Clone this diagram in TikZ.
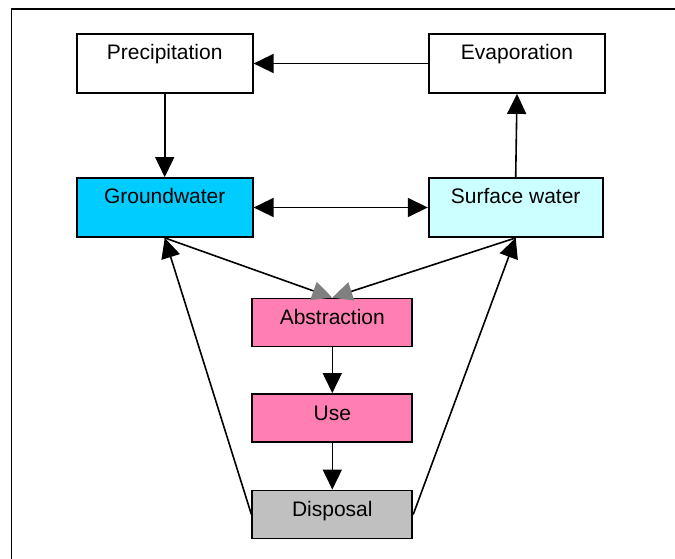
\documentclass[tikz,border=0pt]{standalone}
\usepackage{fontspec}
\setmainfont{Liberation Sans}
\usetikzlibrary{arrows.meta}
\definecolor{gwblue}{HTML}{00CCFF}
\definecolor{swblue}{HTML}{CCFFFF}
\definecolor{usepink}{HTML}{FF7FB2}
\definecolor{dispgray}{HTML}{C0C0C0}
\definecolor{tipgray}{HTML}{808080}
\begin{document}
\begin{tikzpicture}[x=1pt,y=-1pt,
  box/.style={draw=black, line width=1.8pt, rectangle, inner sep=0pt,
    font=\fontsize{21}{25}\selectfont, text height=26pt},
  bigbox/.style={box, minimum width=176pt, minimum height=59pt, text depth=33pt},
  smallbox/.style={box, minimum width=160pt, minimum height=48pt, text depth=22pt},
  flow/.style={line width=1.6pt, -{Triangle[length=20pt,width=19pt]}},
  flowgray/.style={line width=1.6pt, -{Triangle[length=20pt,width=19pt,color=tipgray]}},
  twoway/.style={line width=1.6pt, {Triangle[length=20pt,width=19pt]}-{Triangle[length=20pt,width=19pt]}}
]
\useasboundingbox (0,0) rectangle (675,559);
% frame along the top and left edges
\draw[line width=1.8pt] (11.5,559) -- (11.5,9) -- (675,9);

% water cycle boxes
\node[bigbox] (prec) at (164.7,63.5) {Precipitation};
\node[bigbox, minimum width=176.6pt] (evap) at (517,63.5) {Evaporation};
\node[bigbox, fill=gwblue] (gw) at (164.7,207.5) {Groundwater};
\node[bigbox, fill=swblue, minimum width=174pt] (sw) at (515.7,207.5) {Surface water};

% human use chain
\node[smallbox, fill=usepink] (abs) at (332.3,322.5) {Abstraction};
\node[smallbox, fill=usepink] (use) at (332.3,418) {Use};
\node[smallbox, fill=dispgray] (disp) at (332.3,514.5) {Disposal};

% connectors
\draw[flow] (evap.west) -- (prec.east);
\draw[flow] (prec.south) -- (gw.north);
\draw[twoway] (gw.east) -- (sw.west);
\draw[flow] (sw.north) -- (evap.south);
\draw[flowgray] (gw.south) -- (abs.north);
\draw[flowgray] (sw.south) -- (abs.north);
\draw[flow] (abs.south) -- (use.north);
\draw[flow] (use.south) -- (disp.north);
\draw[flow] (disp.west) -- (gw.south);
\draw[flow] (disp.east) -- (sw.south);
\end{tikzpicture}
\end{document}
